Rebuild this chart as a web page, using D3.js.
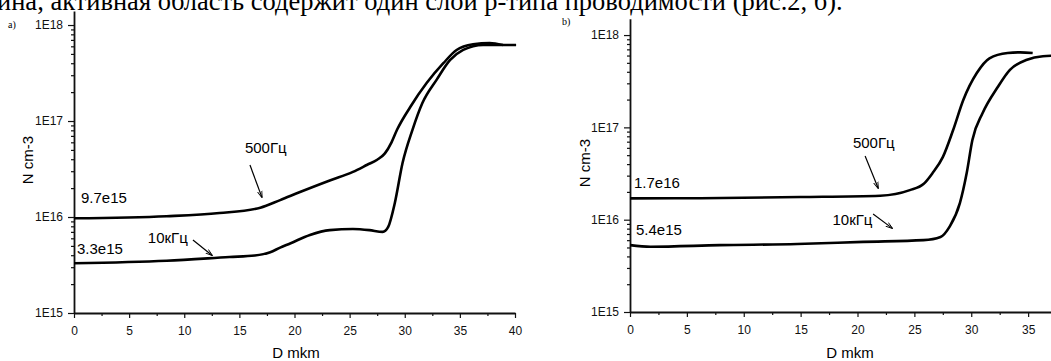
<!DOCTYPE html>
<html>
<head>
<meta charset="utf-8">
<script src="https://cdn.jsdelivr.net/npm/d3@7"></script>
<style>
  body { margin: 0; background: #fff; }
  svg { display: block; }
</style>
</head>
<body>
<svg id="chart" width="1051" height="361"></svg>
<script>
// text line of the page above the figure (cut off in the scan)
const topLine = "ина, активная область содержит один слой p-типа проводимости (рис.2, б).";

// panel a)
const aD500 = [0, 8.4, 13.2, 16.9, 18.7, 20.5, 23.2, 25.3, 26.6, 27.5, 28.2, 28.8, 29.3, 30.5, 32.0, 33.5, 34.7, 36.2, 37.7, 38.9];
const aN500 = [9.7e15, 1.02e16, 1.1e16, 1.25e16, 1.5e16, 1.82e16, 2.4e16, 2.95e16, 3.5e16, 3.95e16, 4.6e16, 6.0e16, 8.1e16, 1.4e17, 2.5e17, 4.0e17, 5.5e17, 6.3e17, 6.5e17, 6.2e17];
const aD10k = [0, 8.4, 14.1, 16.4, 17.8, 18.7, 19.6, 21.4, 23.2, 25.3, 26.8, 28.0, 28.5, 29.1, 29.8, 30.7, 31.6, 32.9, 34.1, 35.3, 37.1, 40.1];
const aN10k = [3.3e15, 3.5e15, 3.83e15, 3.97e15, 4.3e15, 4.8e15, 5.3e15, 6.5e15, 7.3e15, 7.5e15, 7.3e15, 7.0e15, 7.9e15, 1.4e16, 3.65e16, 8.1e16, 1.54e17, 2.7e17, 4.3e17, 5.5e17, 6.2e17, 6.2e17];

// panel b)
const bD500 = [0, 6.2, 15.0, 22.0, 24.6, 25.8, 26.6, 27.5, 28.4, 29.3, 30.5, 31.6, 33.2, 34.3, 35.4];
const bN500 = [1.7e16, 1.71e16, 1.76e16, 1.82e16, 2.09e16, 2.43e16, 3.2e16, 4.76e16, 9.3e16, 1.98e17, 3.9e17, 5.6e17, 6.4e17, 6.5e17, 6.4e17];
const bD10k = [0, 1.8, 7.9, 14.7, 20.5, 25.8, 27.3, 28.1, 29.0, 29.6, 30.1, 31.0, 32.3, 33.4, 34.9, 36.3, 37.6];
const bN10k = [5.3e15, 5.1e15, 5.3e15, 5.45e15, 5.75e15, 6.0e15, 6.5e15, 8.4e15, 1.51e16, 3.2e16, 7.3e16, 1.43e17, 2.7e17, 4.2e17, 5.4e17, 5.9e17, 6.0e17];

// ticks
const xTicks = [0, 5, 10, 15, 20, 25, 30, 35, 40];
const xMinor = [2.5, 7.5, 12.5, 17.5, 22.5, 27.5, 32.5, 37.5];
const yTicks = [1e15, 1e16, 1e17, 1e18];
const yMinor = [];
[1e15, 1e16, 1e17].forEach(function (dec) {
  for (let k = 2; k <= 9; k++) yMinor.push(k * dec);
});

// annotations: [text, D, N]
const aLabels = [["9.7e15", 0.63, 1.4e16], ["3.3e15", 0.27, 4.1e15], ["500Гц", 15.5, 4.6e16], ["10кГц", 6.7, 5.36e15]];
const aArrows = [[15.96, 3.48e16, 17.04, 1.61e16], [10.79, 5.75e15, 12.51, 4.0e15]];
const bLabels = [["1.7e16", 0.35, 2.2e16], ["5.4e15", 0.53, 6.8e15], ["500Гц", 19.6, 5.97e16], ["10кГц", 17.8, 8.7e15]];
const bArrows = [[20.67, 4.89e16, 21.81, 2.2e16], [21.37, 1.15e16, 23.04, 8.1e15]];

const W = 1051;
const sans = "'Liberation Sans', Arial, sans-serif";
const svg = d3.select("#chart");

svg.append("text")
  .attr("x", -3)
  .attr("y", 10)
  .attr("font-family", "'Liberation Serif', 'Times New Roman', serif")
  .attr("font-size", 26.5)
  .text(topLine);

function panel(p) {
  const x = d3.scaleLinear().domain([0, 40]).range([p.x0, p.x1]);
  const y = d3.scaleLog().domain([1e15, p.yMax]).range([p.yBottom, p.yTop]);
  const g = svg.append("g");
  const inView = v => x(v) <= W - 4;

  // minor ticks
  g.append("g")
    .attr("transform", "translate(0," + p.yBottom + ")")
    .call(d3.axisBottom(x).tickValues(xMinor.filter(inView)).tickSize(3).tickFormat(""))
    .call(s => s.select(".domain").remove());
  g.append("g")
    .attr("transform", "translate(" + p.x0 + ",0)")
    .call(d3.axisLeft(y).tickValues(yMinor).tickSize(3).tickFormat(""))
    .call(s => s.select(".domain").remove());

  // major axes
  g.append("g")
    .attr("transform", "translate(0," + p.yBottom + ")")
    .call(d3.axisBottom(x).tickValues(xTicks.filter(inView)).tickSize(5).tickSizeOuter(0).tickPadding(8).tickFormat(d3.format("d")));
  g.append("g")
    .attr("transform", "translate(" + p.x0 + ",0)")
    .call(d3.axisLeft(y).tickValues(yTicks).tickSize(6).tickSizeOuter(0).tickPadding(5)
      .tickFormat(d => "1E" + Math.round(Math.log10(d))));

  g.selectAll(".tick line").attr("stroke", "#111").attr("stroke-width", 1.2);
  g.selectAll(".domain").attr("stroke", "#111").attr("stroke-width", 1.8);
  g.selectAll(".tick text").attr("font-family", sans).attr("font-size", 12).attr("fill", "#111");

  // axis titles
  g.append("text")
    .attr("x", p.xTitleX)
    .attr("y", 358)
    .attr("text-anchor", "middle")
    .attr("font-family", sans)
    .attr("font-size", 15)
    .text("D mkm");
  g.append("text")
    .attr("transform", "translate(" + p.yTitleX + "," + p.yTitleY + ") rotate(-90)")
    .attr("text-anchor", "middle")
    .attr("font-family", sans)
    .attr("font-size", 15)
    .text("N cm-3");

  // panel letter
  g.append("text")
    .attr("x", p.letterX)
    .attr("y", p.letterY)
    .attr("font-family", "'Liberation Serif', serif")
    .attr("font-size", 10)
    .text(p.letter);

  // curves
  const line = d3.line()
    .x(d => x(d[0]))
    .y(d => y(d[1]))
    .curve(d3.curveMonotoneX);
  p.series.forEach(function (s) {
    g.append("path")
      .datum(d3.zip(s[0], s[1]))
      .attr("fill", "none")
      .attr("stroke", "#000")
      .attr("stroke-width", 2.6)
      .attr("stroke-linejoin", "round")
      .attr("d", line);
  });

  // labels and pointers
  p.labels.forEach(function (l) {
    g.append("text")
      .attr("x", x(l[1]))
      .attr("y", y(l[2]))
      .attr("font-family", sans)
      .attr("font-size", 15)
      .text(l[0]);
  });
  p.arrows.forEach(function (a) {
    g.append("line")
      .attr("x1", x(a[0])).attr("y1", y(a[1]))
      .attr("x2", x(a[2])).attr("y2", y(a[3]))
      .attr("stroke", "#000")
      .attr("stroke-width", 1.2)
      .attr("marker-end", "url(#tip)");
  });
}

svg.append("defs").append("marker")
  .attr("id", "tip")
  .attr("viewBox", "0 0 8 6")
  .attr("refX", 7).attr("refY", 3)
  .attr("markerWidth", 6).attr("markerHeight", 5)
  .attr("orient", "auto")
  .append("path")
  .attr("d", "M0,0.5 L8,3 L0,5.5")
  .attr("fill", "none")
  .attr("stroke", "#000")
  .attr("stroke-width", 1);

panel({
  x0: 74, x1: 515, yBottom: 313, yTop: 11, yMax: 1.4e18,
  xTitleX: 296, yTitleX: 33, yTitleY: 160,
  letter: "a)", letterX: 8, letterY: 28,
  series: [[aD500, aN500], [aD10k, aN10k]],
  labels: aLabels, arrows: aArrows
});

panel({
  x0: 630, x1: 1085, yBottom: 312, yTop: 18.8, yMax: 1.5e18,
  xTitleX: 850, yTitleX: 590, yTitleY: 163,
  letter: "b)", letterX: 562, letterY: 25,
  series: [[bD500, bN500], [bD10k, bN10k]],
  labels: bLabels, arrows: bArrows
});
</script>
</body>
</html>
